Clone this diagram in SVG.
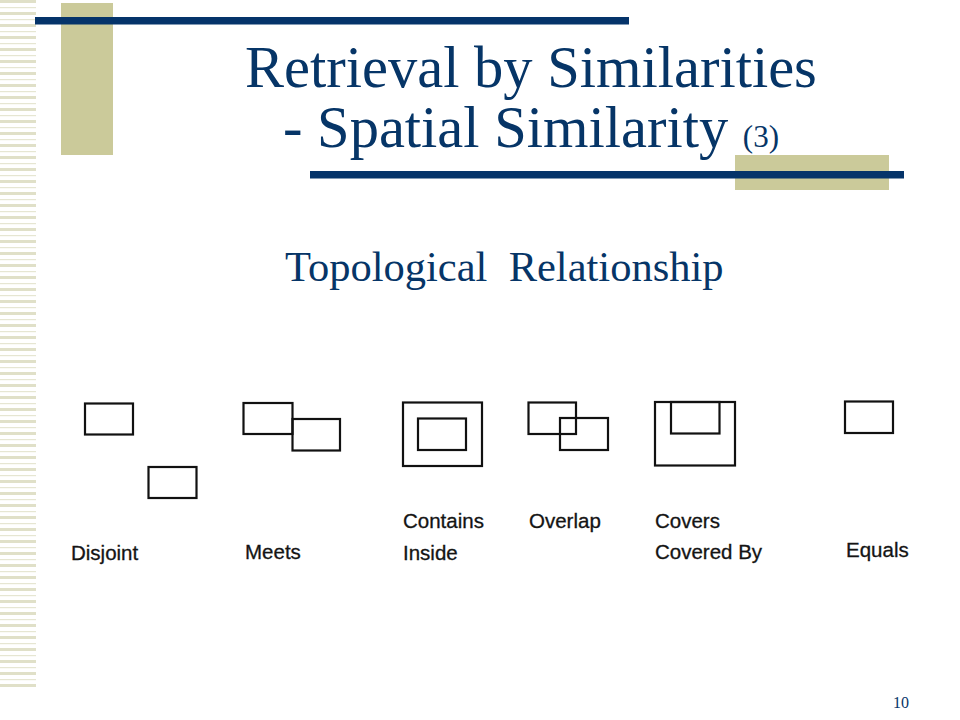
<svg xmlns="http://www.w3.org/2000/svg" width="960" height="720" viewBox="0 0 960 720">
<defs>
<pattern id="stripes" x="0" y="0" width="36" height="12" patternUnits="userSpaceOnUse">
<rect x="0" y="0" width="36" height="3" fill="#e0e0c8"/>
<rect x="0" y="7" width="36" height="1.2" fill="#e6e6d2"/>
</pattern>
</defs>
<style>
.title{font-family:"Liberation Serif","Times New Roman",serif;fill:#063567}
.box{fill:none;stroke:#111;stroke-width:2.2}
.lbl{font-family:"Liberation Sans",Arial,sans-serif;font-size:20.5px;fill:#141414;stroke:#141414;stroke-width:0.3}
.tan{fill:#cbca9a}
.blue{fill:#05346a}
</style>
<rect width="960" height="720" fill="#ffffff"/>
<rect x="0" y="0" width="36" height="688" fill="url(#stripes)"/>
<rect class="tan" x="61" y="3" width="52" height="152"/>
<rect class="blue" x="35" y="17" width="594" height="7.5"/>
<rect class="tan" x="735" y="155" width="154" height="35"/>
<rect class="blue" x="310" y="171" width="594" height="7.5"/>
<text class="title" x="245" y="87" font-size="58.5">Retrieval by Similarities</text>
<text class="title" x="283" y="147" font-size="58.5">- Spatial Similarity <tspan font-size="31">(3)</tspan></text>
<text class="title" x="285" y="281" font-size="42.5" xml:space="preserve">Topological  Relationship</text>
<g id="disjoint">
<rect class="box" x="85" y="403.5" width="48" height="31"/>
<rect class="box" x="148.5" y="467" width="48" height="31"/>
<text class="lbl" x="71" y="560">Disjoint</text>
</g>
<g id="meets">
<rect class="box" x="243.5" y="403" width="49" height="31"/>
<rect class="box" x="292.5" y="419" width="47.5" height="31.5"/>
<text class="lbl" x="245" y="559">Meets</text>
</g>
<g id="contains">
<rect class="box" x="403" y="402.5" width="79" height="63.5"/>
<rect class="box" x="418" y="418.5" width="48" height="31.5"/>
<text class="lbl" x="403" y="528">Contains</text>
<text class="lbl" x="403" y="560">Inside</text>
</g>
<g id="overlap">
<rect class="box" x="528.5" y="402.5" width="47.5" height="31.5"/>
<rect class="box" x="560" y="418" width="48" height="32" fill="#fff"/>
<text class="lbl" x="529" y="528">Overlap</text>
</g>
<g id="covers">
<rect class="box" x="655" y="402" width="80" height="63.5"/>
<rect class="box" x="671" y="402" width="48.5" height="31.5"/>
<text class="lbl" x="655" y="528">Covers</text>
<text class="lbl" x="655" y="559">Covered By</text>
</g>
<g id="equals">
<rect class="box" x="845" y="401.5" width="48" height="31.5"/>
<text class="lbl" x="846" y="557">Equals</text>
</g>
<g id="connectors"></g>
<text class="title" x="893" y="708" font-size="16">10</text>
</svg>
